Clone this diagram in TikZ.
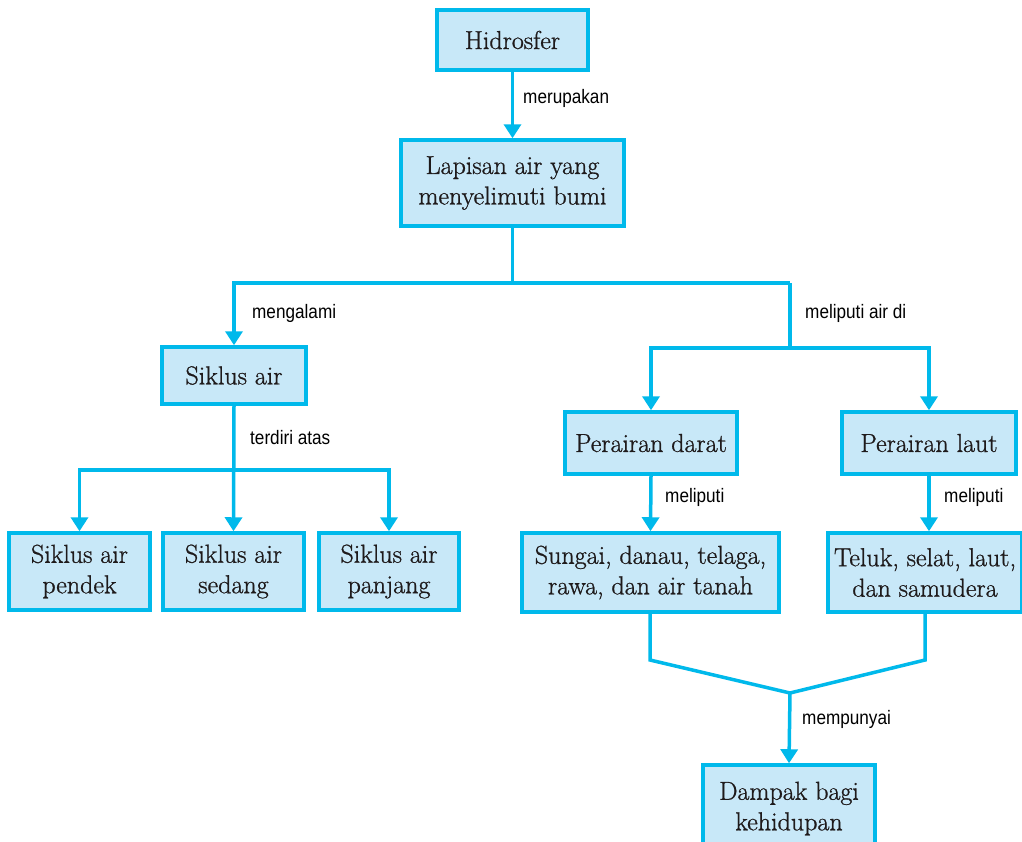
\documentclass[tikz,border=0pt]{standalone}
\usepackage{fontspec}
\setmainfont{Latin Modern Roman}[FakeBold=0.9]
\newfontfamily\labfont[FakeStretch=0.88]{Liberation Sans}
\usetikzlibrary{arrows.meta}
\definecolor{lnc}{RGB}{0,185,235}
\definecolor{boxf}{RGB}{200,232,248}
\definecolor{txt}{RGB}{30,26,27}
\tikzset{
  box/.style={draw=lnc, fill=boxf, line width=3.5pt, align=center, text=txt,
    font=\fontsize{26}{30.5}\selectfont, inner sep=0pt},
  conn/.style={draw=lnc, line width=3.5pt},
  arr/.style={conn, -{Triangle[width=17pt,length=14pt]}},
  lab/.style={anchor=west, text=black, font=\labfont\fontsize{19.5}{22}\selectfont, inner sep=0pt}
}
\begin{document}
\begin{tikzpicture}[x=1pt,y=-1pt]
\useasboundingbox[fill=white] (0,0) rectangle (1022,841);
% boxes
\node[box, minimum width=151, minimum height=60] (hid) at (512.5,40) {Hidrosfer};
\node[box, minimum width=223, minimum height=86] (lap) at (512.5,183) {Lapisan air yang\\menyelimuti bumi};
\node[box, minimum width=144, minimum height=57] (sa) at (234,375.5) {Siklus air};
\node[box, minimum width=141, minimum height=77] (p1) at (79.5,571.5) {Siklus air\\pendek};
\node[box, minimum width=141, minimum height=77] (p2) at (233.5,571.5) {Siklus air\\sedang};
\node[box, minimum width=140, minimum height=77] (p3) at (389,571.5) {Siklus air\\panjang};
\node[box, minimum width=172, minimum height=62] (pd) at (651,443) {Perairan darat};
\node[box, minimum width=174, minimum height=62] (pl) at (929,443) {Perairan laut};
\node[box, minimum width=257, minimum height=79] (sg) at (650.5,572.5) {Sungai, danau, telaga,\\rawa, dan air tanah};
\node[box, minimum width=194, minimum height=79] (tl) at (925,572.5) {Teluk, selat, laut,\\dan samudera};
\node[box, minimum width=172, minimum height=82, text depth=0pt] (dk) at (789,806) {Dampak bagi\\kehidupan};
% junctions
\coordinate (j1) at (512.5,283);
\coordinate (jl) at (234,283);
\coordinate (jr) at (790,283);
\coordinate (k) at (790,348);
\coordinate (s1) at (234,470);
\coordinate (m) at (790,693);
\coordinate (a1) at (650,660);
\coordinate (a2) at (925,660);
% connectors
\draw[arr] (hid.south) -- (lap.north);
\draw[conn] (lap.south) -- (j1);
\draw[arr] (jr) -- (jl) -- (sa.north);
\draw[arr] (jr) -- (k) -| (pd.north);
\draw[arr] (k) -| (pl.north);
\draw[arr] (sa.south) -- (p2.north);
\draw[arr] (s1) -| (p1.north);
\draw[arr] (s1) -| (p3.north);
\draw[arr] (pd.south) -- (sg.north);
\draw[arr] (pl.south) -- (pl.south |- tl.north);
\draw[conn, line join=miter] (sg.south -| a1) -- (a1) -- (m) -- (a2) -- (tl.south);
\draw[arr] (m) -- (dk.north);
% labels
\node[lab] (l1) at (523,98) {merupakan};
\node[lab] (l2) at (252,313) {mengalami};
\node[lab] (l3) at (805,313) {meliputi air di};
\node[lab] (l4) at (250,438) {terdiri atas};
\node[lab] (l5) at (665,497) {meliputi};
\node[lab] (l6) at (944,497) {meliputi};
\node[lab] (l7) at (802,719) {mempunyai};
\end{tikzpicture}
\end{document}
